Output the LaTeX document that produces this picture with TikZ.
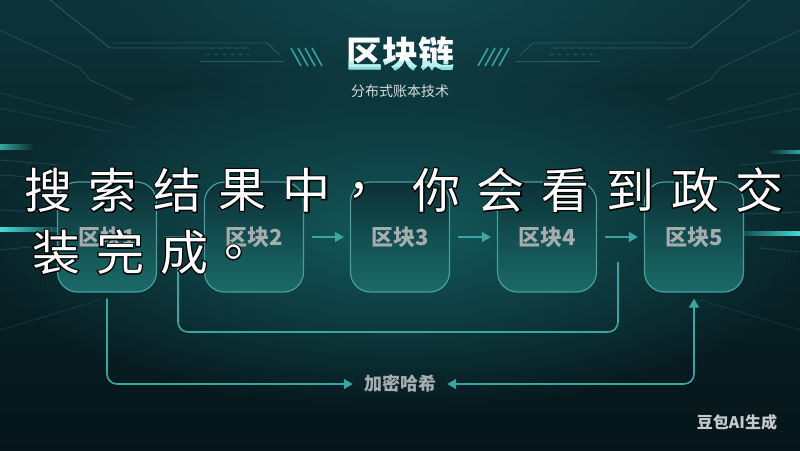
\documentclass[tikz,border=0pt]{standalone}
\usepackage{fontspec}
\newfontfamily\cjk{Noto Sans CJK SC}
\usetikzlibrary{arrows.meta,fadings}
\tikzfading[name=myfadeout, inner color=transparent!0, outer color=transparent!100]
\tikzfading[name=myfaderight, left color=transparent!0, right color=transparent!100]
\tikzfading[name=myfadeleft, left color=transparent!100, right color=transparent!0]
\definecolor{bgtop}{HTML}{0C3338}
\definecolor{bgmid}{HTML}{0A3438}
\definecolor{bgbot}{HTML}{06151A}
\definecolor{glowteal}{HTML}{13595B}
\definecolor{glowtop}{HTML}{12484E}
\definecolor{blockedge}{HTML}{4A9E9A}
\definecolor{blocktop}{HTML}{0C3136}
\definecolor{blockbot}{HTML}{1A6B69}
\definecolor{labelgray}{HTML}{A6ADAF}
\definecolor{conncol}{HTML}{3BA6A1}
\definecolor{circuit}{HTML}{2C8080}
\definecolor{streak}{HTML}{45DDD4}
\definecolor{titlecyan}{HTML}{B5F2EE}
\definecolor{titlecyan2}{HTML}{7FE3DE}
\definecolor{subgray}{HTML}{D6DCDC}
\definecolor{markgray}{HTML}{C4C9CA}
\begin{document}
\begin{tikzpicture}[x=1pt,y=-1pt,
  blockbox/.style={draw=blockedge, line width=1.2pt, rounded corners=20pt,
    minimum width=99pt, minimum height=110pt, top color=blocktop, bottom color=blockbot,
    text=labelgray, font=\cjk\bfseries\fontsize{22}{26}\selectfont},
  conn/.style={draw=conncol, line width=1.6pt},
  tipped/.style={-{Triangle[length=9pt,width=10pt]}},
  circ/.style={draw=circuit, line width=0.9pt, opacity=0.55},
  hwfont/.style={inner sep=0pt, font=\cjk\fontsize{48}{48}\selectfont},
  hwback/.style={hwfont, text=black, font=\cjk\fontsize{48}{48}\selectfont\addfontfeature{FakeBold=5}},
  hwfront/.style={hwfont, text=white}]
\useasboundingbox (0,0) rectangle (800,450);
% background
\shade[top color=bgtop, middle color=bgmid, bottom color=bgbot] (0,0) rectangle (800,450);
\fill[glowteal, path fading=myfadeout] (400,235) ellipse (430 and 175);
\fill[glowtop, path fading=myfadeout] (420,-10) ellipse (320 and 130);
% side streaks
\fill[streak, path fading=myfaderight] (0,227) rectangle (70,232);
\fill[streak, path fading=myfaderight, opacity=0.7] (0,144) rectangle (34,150);
\fill[streak, path fading=myfadeleft] (730,231) rectangle (800,236);
\fill[streak, path fading=myfadeleft, opacity=0.7] (768,150) rectangle (800,154);
\draw[circ, opacity=0.35] (0,160) -- (60,165) (0,175) -- (45,178) (0,210) -- (50,212) (0,250) -- (40,246);
\draw[circ, opacity=0.35] (800,160) -- (740,165) (800,175) -- (755,178) (800,212) -- (745,214) (800,252) -- (760,248);
% perspective lines
\draw[circ, opacity=0.25] (0,93) -- (135,128) (0,108) -- (110,132) (0,330) -- (100,300);
\draw[circ, opacity=0.25] (800,93) -- (665,128) (800,108) -- (690,132) (800,330) -- (700,300);
% circuit lines near title
\draw[circ] (50,0) -- (110,48) -- (250,48);
\draw[circ] (113,43) -- (267,43) -- (280,55);
\draw[circ] (200,61) -- (285,61);
\draw[circ, dash pattern=on 3pt off 5pt] (207,54) -- (250,54);
\draw[circ, opacity=0.4] (0,30) -- (80,68) -- (90,80) -- (133,100);
\draw[circ] (750,0) -- (690,48) -- (550,48);
\draw[circ] (687,43) -- (533,43) -- (520,55);
\draw[circ] (600,61) -- (515,61);
\draw[circ, dash pattern=on 3pt off 5pt] (593,54) -- (550,54);
\draw[circ, opacity=0.4] (800,30) -- (720,68) -- (710,80) -- (667,100);
\foreach \k in {0,1,2,3} {
  \draw[draw=streak, line width=1.6pt, opacity=0.65] (291+7*\k,48) -- (301+7*\k,66);
  \draw[draw=streak, line width=1.6pt, opacity=0.65] (509-7*\k,48) -- (499-7*\k,66);
}
% title
\node[text=white, font=\cjk\bfseries\fontsize{36}{40}\selectfont] (title) at (400,54) {区块链};
\begin{scope}
  \clip (320,61) rectangle (480,67);
  \node[text=titlecyan, font=\cjk\bfseries\fontsize{36}{40}\selectfont] (titleb) at (400,54) {区块链};
\end{scope}
\begin{scope}
  \clip (320,67) rectangle (480,80);
  \node[text=titlecyan2, font=\cjk\bfseries\fontsize{36}{40}\selectfont] (titlec) at (400,54) {区块链};
\end{scope}
\node[text=subgray, font=\cjk\fontsize{14}{16}\selectfont] (sub) at (400,91) {分布式账本技术};
% blocks
\node[blockbox] (b1) at (107,237) {区块1};
\node[blockbox] (b2) at (254,237) {区块2};
\node[blockbox] (b3) at (400,237) {区块3};
\node[blockbox] (b4) at (547,237) {区块4};
\node[blockbox] (b5) at (694,237) {区块5};
\foreach \a/\b in {b1/b2,b2/b3,b3/b4,b4/b5}
  \draw[conn, tipped] ([xshift=8pt]\a.east) -- ([xshift=-6pt]\b.west);
% upper loop
\coordinate (la) at (178,262);
\coordinate (lb) at (618,262);
\draw[conn, rounded corners=10pt] (la) -- (178,332) -- (618,332) -- (lb);
% hash node and lower loop
\node[text=labelgray, font=\cjk\bfseries\fontsize{18}{20}\selectfont, inner xsep=11pt] (hash) at (400,384) {加密哈希};
\draw[conn, tipped, rounded corners=10pt] ([yshift=-6pt]b1.south) |- (hash.west);
\draw[conn, {Triangle[length=9pt,width=10pt]}-{Triangle[length=9pt,width=10pt]}, rounded corners=10pt] (hash.east) -| ([yshift=-6pt]b5.south);
% watermark
\node[text=markgray, font=\cjk\bfseries\fontsize{16}{18}\selectfont] (mark) at (737,422) {豆包AI生成};
% overlay handwriting-like text
\foreach \c [count=\i from 0] in {搜,索,结,果,中,，,你,会,看,到,政,交} {
  \node[hwback] (hb\i) at (48+64.7*\i,190) {\c};
  \node[hwfront] (hf\i) at (48+64.7*\i,190) {\c};
}
\foreach \c [count=\i from 0] in {装,完,成,。} {
  \node[hwback] (kb\i) at (56+64*\i,252) {\c};
  \node[hwfront] (kf\i) at (56+64*\i,252) {\c};
}
\end{tikzpicture}
\end{document}
